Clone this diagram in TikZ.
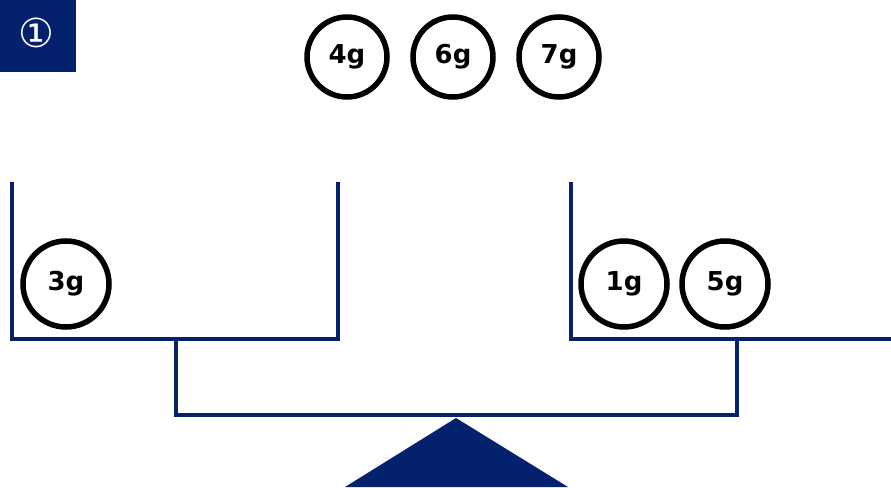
\documentclass[tikz,border=0pt]{standalone}
\usepackage{fontspec}
\setmainfont{DejaVu Sans}
\definecolor{navy}{RGB}{3,33,108}
\tikzset{
  weight/.style={circle,draw=black,line width=5.5pt,minimum size=#1,inner sep=0pt,
    font=\fontsize{26}{26}\selectfont\bfseries},
  pan/.style={draw=navy,line width=4.5pt},
}
\begin{document}
\begin{tikzpicture}[x=1pt,y=-1pt]
  \useasboundingbox (0,0) rectangle (891,487);

  % badge
  \fill[navy] (0,0) rectangle (76,72);
  \node[text=white,font=\fontsize{40}{40}\selectfont] (badge) at (36,33) {①};

  % weights not yet placed
  \foreach \w[count=\i] in {4,6,7} {
    \node[weight=80] (top\w) at (347+106*\i-106,57) {\w g};
  }

  % pans
  \draw[pan] (12,182) -- (12,339) -- (338,339) -- (338,182);
  \draw[pan] (571,182) -- (571,339) -- (891,339);
  \coordinate (lstem) at (176,339);
  \coordinate (rstem) at (737,339);
  \draw[pan] (lstem) -- (176,415) -- (737,415) -- (rstem);

  % stand
  \fill[navy] (456,418) -- (568,487) -- (345,487) -- cycle;

  % weights on pans
  \node[weight=86] (w3) at (66,284) {3g};
  \node[weight=86] (w1) at (624,284) {1g};
  \node[weight=86] (w5) at (725,284) {5g};
\end{tikzpicture}
\end{document}
